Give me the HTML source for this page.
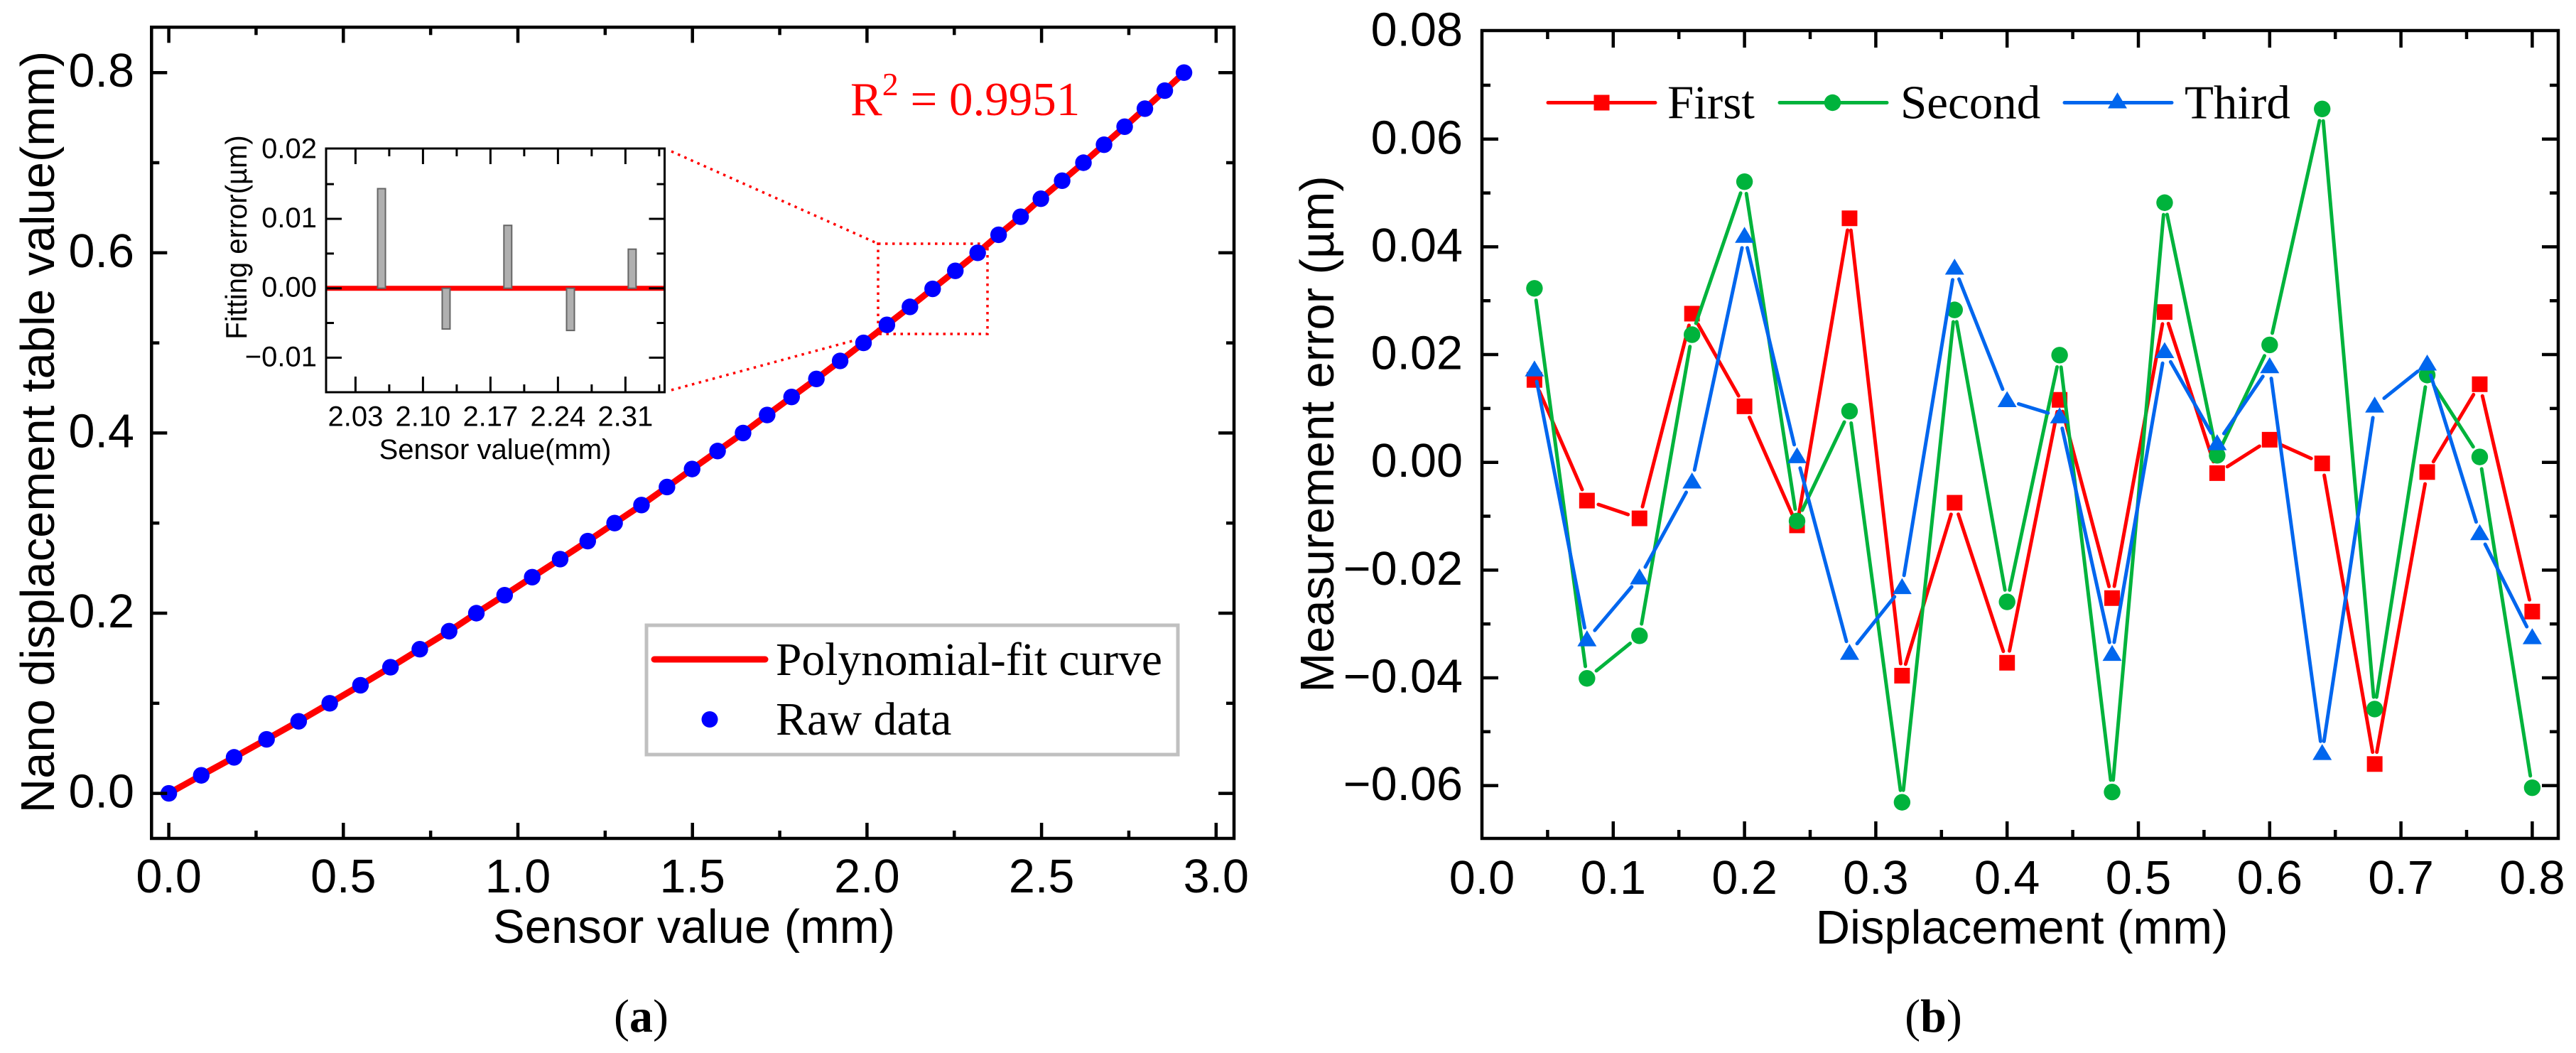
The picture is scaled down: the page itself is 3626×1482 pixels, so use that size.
<!DOCTYPE html>
<html lang="en">
<head>
<meta charset="utf-8">
<title>Sensor fit and measurement error charts</title>
<style>
html,body{margin:0;padding:0;background:#fff;}
svg{display:block;}
.sans{font-family:"Liberation Sans",sans-serif;fill:#000;}
.serif{font-family:"Liberation Serif",serif;fill:#000;}
</style>
</head>
<body>
<svg id="fig" xmlns="http://www.w3.org/2000/svg" width="3626" height="1482" viewBox="0 0 3626 1482">
  <rect x="0" y="0" width="3626" height="1482" fill="#fff"/>

  <!-- Panel A -->
  <g id="panelA">
    <g id="aGuides" fill="none" stroke="#ff0000" stroke-width="3.5" stroke-dasharray="3.5 6.5">
      <rect x="1236" y="343" width="154" height="127"/>
      <line x1="945" y1="213" x2="1236" y2="343"/>
      <line x1="945" y1="549" x2="1236" y2="470"/>
    </g>
    <g id="aMarks"></g>
    <g id="aAxes"></g>
    <rect x="213.3" y="38.3" width="1523.7" height="1141.7" fill="none" stroke="#000" stroke-width="4.5"/>
    <text class="sans" x="977" y="1327" font-size="67" text-anchor="middle">Sensor value (mm)</text>
    <text class="sans" transform="translate(76 608) rotate(-90)" font-size="67" text-anchor="middle">Nano displacement table value(mm)</text>
    <text class="serif" x="1197" y="162" font-size="67" style="fill:#ff0000">R<tspan dy="-28" font-size="46">2</tspan><tspan dy="28"> = 0.9951</tspan></text>

    <g>
      <rect x="910" y="880" width="748" height="182" fill="#fff" stroke="#c0c0c0" stroke-width="5"/>
      <line x1="921" y1="928" x2="1077" y2="928" stroke="#ff0000" stroke-width="9" stroke-linecap="round"/>
      <text class="serif" x="1092" y="950" font-size="65.5">Polynomial-fit curve</text>
      <circle cx="999" cy="1012.5" r="11.5" fill="#0000ff"/>
      <text class="serif" x="1092" y="1034" font-size="66">Raw data</text>
    </g>

    <g id="inset">
      <line id="insetZero" x1="459" x2="935" stroke="#ff0000" stroke-width="7"/>
      <g id="insetBars"></g>
      <g id="insetAxes"></g>
      <rect x="459" y="209" width="476.5" height="343" fill="none" stroke="#000" stroke-width="3"/>
      <text class="sans" x="697" y="646" font-size="40" text-anchor="middle">Sensor value(mm)</text>
      <text class="sans" transform="translate(347 334) scale(1.05 1) rotate(-90)" font-size="40" text-anchor="middle">Fitting error(µm)</text>
    </g>
    <text class="serif" x="902.5" y="1452" font-size="66" text-anchor="middle">(<tspan font-weight="bold">a</tspan>)</text>
  </g>

  <!-- Panel B -->
  <g id="panelB">
    <g id="bMarks"></g>
    <g id="bAxes"></g>
    <rect x="2086" y="43" width="1515" height="1137" fill="none" stroke="#000" stroke-width="4.5"/>
    <text class="sans" x="2846" y="1328" font-size="67" text-anchor="middle">Displacement (mm)</text>
    <text class="sans" transform="translate(1877 611) rotate(-90)" font-size="67" text-anchor="middle">Measurement error (µm)</text>

    <g>
      <line x1="2179" y1="144.5" x2="2330" y2="144.5" stroke="#ff0000" stroke-width="5" stroke-linecap="round"/>
      <rect x="2243.5" y="133.5" width="22" height="22" fill="#ff0000"/>
      <text class="serif" x="2347" y="166.5" font-size="67">First</text>
      <line x1="2505" y1="144.5" x2="2656" y2="144.5" stroke="#00b33c" stroke-width="5" stroke-linecap="round"/>
      <circle cx="2579.5" cy="144.5" r="11.7" fill="#00b33c"/>
      <text class="serif" x="2675" y="166.5" font-size="67">Second</text>
      <line x1="2906" y1="144.5" x2="3057" y2="144.5" stroke="#0066ee" stroke-width="5" stroke-linecap="round"/>
      <polygon points="2980.5,130 2994,152.5 2967,152.5" fill="#0066ee"/>
      <text class="serif" x="3075" y="166.5" font-size="67">Third</text>
    </g>
    <text class="serif" x="2721.5" y="1452" font-size="66" text-anchor="middle">(<tspan font-weight="bold">b</tspan>)</text>
  </g>
</svg>

<script>
// ---- Panel A data ----
const rawSensor = [0,0.093,0.187,0.280,0.372,0.461,0.549,0.635,0.719,0.803,0.881,0.962,1.041,1.121,1.200,1.277,1.354,1.427,1.499,1.572,1.645,1.714,1.784,1.855,1.923,1.990,2.057,2.123,2.188,2.253,2.317,2.377,2.440,2.498,2.559,2.620,2.679,2.738,2.796,2.853,2.908];
const rawTable = [0,0.02,0.04,0.06,0.08,0.10,0.12,0.14,0.16,0.18,0.20,0.22,0.24,0.26,0.28,0.30,0.32,0.34,0.36,0.38,0.40,0.42,0.44,0.46,0.48,0.50,0.52,0.54,0.56,0.58,0.60,0.62,0.64,0.66,0.68,0.70,0.72,0.74,0.76,0.78,0.80];
const aXTicks = ["0.0","0.5","1.0","1.5","2.0","2.5","3.0"];
const aYTicks = ["0.0","0.2","0.4","0.6","0.8"];
const aXMinor = [0.25,0.75,1.25,1.75,2.25,2.75];
const aYMinor = [0.1,0.3,0.5,0.7];

// ---- Inset data ----
const insetSensor = [2.057,2.124,2.188,2.253,2.317];
const insetError = [0.01435,-0.00587,0.00906,-0.00608,0.00563];
const insetXTicks = ["2.03","2.10","2.17","2.24","2.31"];
const insetYTicks = ["−0.01","0.00","0.01"];
const insetYTopLabel = ["0.02"];
const insetXMinor = [2.065,2.135,2.205,2.275,2.345];
const insetYMinor = [-0.005,0.005,0.015];

// ---- Panel B data ----
const displacement = [0.04,0.08,0.12,0.16,0.20,0.24,0.28,0.32,0.36,0.40,0.44,0.48,0.52,0.56,0.60,0.64,0.68,0.72,0.76,0.80];
const firstRun = [0.0153,-0.0071,-0.0104,0.0276,0.0104,-0.0117,0.0453,-0.0396,-0.0075,-0.0372,0.0116,-0.0252,0.0279,-0.0020,0.0042,-0.0002,-0.0560,-0.0018,0.0145,-0.0277];
const secondRun = [0.0323,-0.0401,-0.0322,0.0237,0.0521,-0.0109,0.0095,-0.0631,0.0283,-0.0259,0.0199,-0.0612,0.0482,0.0013,0.0218,0.0656,-0.0458,0.0162,0.0010,-0.0604];
const thirdRun = [0.0172,-0.0329,-0.0214,-0.0036,0.0420,0.0011,-0.0354,-0.0232,0.0361,0.0115,0.0085,-0.0356,0.0206,0.0035,0.0178,-0.0540,0.0105,0.0183,-0.0132,-0.0325];
const bXTicks = ["0.0","0.1","0.2","0.3","0.4","0.5","0.6","0.7","0.8"];
const bYTicks = ["−0.06","−0.04","−0.02","0.00","0.02","0.04","0.06","0.08"];
const bXMinor = [0.05,0.15,0.25,0.35,0.45,0.55,0.65,0.75];
const bYMinor = [-0.05,-0.03,-0.01,0.01,0.03,0.05,0.07];

// ---- Axis functions ----
const axA = v => 237.6 + 491.4 * v;
const ayA = v => 1116.6 - 1268 * v;
const axI = v => 500.4 + 1357 * (v - 2.03);
const ayI = v => 405.7 - 9770 * v;
const axB = v => 2086 + 1848 * v;
const ayB = v => 650.7 - 7582 * v;
const num = s => parseFloat(String(s).replace("−", "-"));

const NS = "http://www.w3.org/2000/svg";
function mk(tag, attrs, parent) {
  const el = document.createElementNS(NS, tag);
  for (const k in attrs) el.setAttribute(k, attrs[k]);
  parent.appendChild(el);
  return el;
}
function tickX(parent, x, top, bottom, len, w) {
  const a = mk("line", {x1: x, x2: x, y1: bottom, y2: bottom - len, stroke: "#000", "stroke-width": w}, parent);
  
  
  const b = mk("line", {x1: x, x2: x, y1: top, y2: top + len, stroke: "#000", "stroke-width": w}, parent);
  
  
}
function tickY(parent, y, left, right, len, w) {
  const a = mk("line", {x1: left, x2: left + len, y1: y, y2: y, stroke: "#000", "stroke-width": w}, parent);
  
  
  const b = mk("line", {x1: right, x2: right - len, y1: y, y2: y, stroke: "#000", "stroke-width": w}, parent);
  
  
}
function label(parent, s, x, y, size, anchor) {
  const t = mk("text", {"class": "sans", "font-size": size, "text-anchor": anchor, x: x, y: y}, parent);
  t.textContent = s;
  
  
}

// ---- Draw panel A ----
const aMarks = document.getElementById("aMarks");
const fitLine = mk("polyline", {
  points: rawSensor.map((v, i) => axA(v).toFixed(1) + "," + ayA(rawTable[i]).toFixed(1)).join(" "),
  fill: "none", stroke: "#ff0000", "stroke-width": 9, "stroke-linejoin": "round"
}, aMarks);


rawSensor.forEach((v, i) => {
  const c = mk("circle", {cx: axA(v), cy: ayA(rawTable[i]), r: 11.7, fill: "#0000ff"}, aMarks);
  
  
});
const aAxes = document.getElementById("aAxes");
aXTicks.forEach(s => {
  tickX(aAxes, axA(num(s)), 38.3, 1180, 22, 4.5);
  label(aAxes, s, axA(num(s)), 1256, 66.5, "middle");
});
aXMinor.forEach(v => tickX(aAxes, axA(v), 38.3, 1180, 11, 4.5));
aYTicks.forEach(s => {
  tickY(aAxes, ayA(num(s)), 213.3, 1737, 22, 4.5);
  label(aAxes, s, 189, ayA(num(s)) + 20, 66.5, "end");
});
aYMinor.forEach(v => tickY(aAxes, ayA(v), 213.3, 1737, 11, 4.5));

// ---- Draw inset ----
const zero = document.getElementById("insetZero");
zero.setAttribute("y1", ayI(0));
zero.setAttribute("y2", ayI(0));
const insetBars = document.getElementById("insetBars");
insetSensor.forEach((v, i) => {
  const y0 = ayI(0), y1 = ayI(insetError[i]);
  const r = mk("rect", {x: axI(v) - 5.5, y: Math.min(y0, y1), width: 11, height: Math.abs(y1 - y0),
    fill: "#b0b0b0", stroke: "#666", "stroke-width": 2}, insetBars);
  
  
});
const insetAxes = document.getElementById("insetAxes");
insetXTicks.forEach(s => {
  tickX(insetAxes, axI(num(s)), 209, 552, 22, 3);
  label(insetAxes, s, axI(num(s)), 599.5, 40, "middle");
});
insetXMinor.forEach(v => tickX(insetAxes, axI(v), 209, 552, 11, 3));
insetYTicks.forEach(s => {
  tickY(insetAxes, ayI(num(s)), 459, 935.5, 22, 3);
  label(insetAxes, s, 446, ayI(num(s)) + 12, 40, "end");
});
insetYTopLabel.forEach(s => label(insetAxes, s, 446, ayI(num(s)) + 12, 40, "end"));
insetYMinor.forEach(v => tickY(insetAxes, ayI(v), 459, 935.5, 11, 3));

// ---- Draw panel B ----
const bMarks = document.getElementById("bMarks");
const GAP = 17;
function drawSegments(values, color, parent) {
  for (let i = 0; i < values.length - 1; i++) {
    const x1 = axB(displacement[i]), y1 = ayB(values[i]);
    const x2 = axB(displacement[i + 1]), y2 = ayB(values[i + 1]);
    const d = Math.hypot(x2 - x1, y2 - y1);
    if (d <= 2 * GAP) continue;
    const ux = (x2 - x1) / d, uy = (y2 - y1) / d;
    const seg = mk("line", {x1: x1 + ux * GAP, y1: y1 + uy * GAP, x2: x2 - ux * GAP, y2: y2 - uy * GAP,
      stroke: color, "stroke-width": 5, "stroke-linecap": "round"}, parent);
    
    
  }
}
drawSegments(firstRun, "#ff0000", bMarks);
firstRun.forEach((v, i) => {
  const m = mk("rect", {x: axB(displacement[i]) - 11, y: ayB(v) - 11, width: 22, height: 22, fill: "#ff0000"}, bMarks);
  
  
});
drawSegments(secondRun, "#00b33c", bMarks);
secondRun.forEach((v, i) => {
  const m = mk("circle", {cx: axB(displacement[i]), cy: ayB(v), r: 11.7, fill: "#00b33c"}, bMarks);
  
  
});
drawSegments(thirdRun, "#0066ee", bMarks);
thirdRun.forEach((v, i) => {
  const x = axB(displacement[i]), y = ayB(v);
  const m = mk("polygon", {points: x + "," + (y - 13) + " " + (x + 13.5) + "," + (y + 9.5) + " " + (x - 13.5) + "," + (y + 9.5), fill: "#0066ee"}, bMarks);
  
  
});
const bAxes = document.getElementById("bAxes");
bXTicks.forEach(s => {
  if (num(s) > 0) tickX(bAxes, axB(num(s)), 43, 1180, 24, 4.5);
  label(bAxes, s, axB(num(s)), 1258, 66.5, "middle");
});
bXMinor.forEach(v => tickX(bAxes, axB(v), 43, 1180, 12, 4.5));
bYTicks.forEach(s => {
  if (num(s) < 0.08) tickY(bAxes, ayB(num(s)), 2086, 3601, 23, 4.5);
  label(bAxes, s, 2059, ayB(num(s)) + 20.5, 66.5, "end");
});
bYMinor.forEach(v => tickY(bAxes, ayB(v), 2086, 3601, 12, 4.5));
</script>
</body>
</html>
